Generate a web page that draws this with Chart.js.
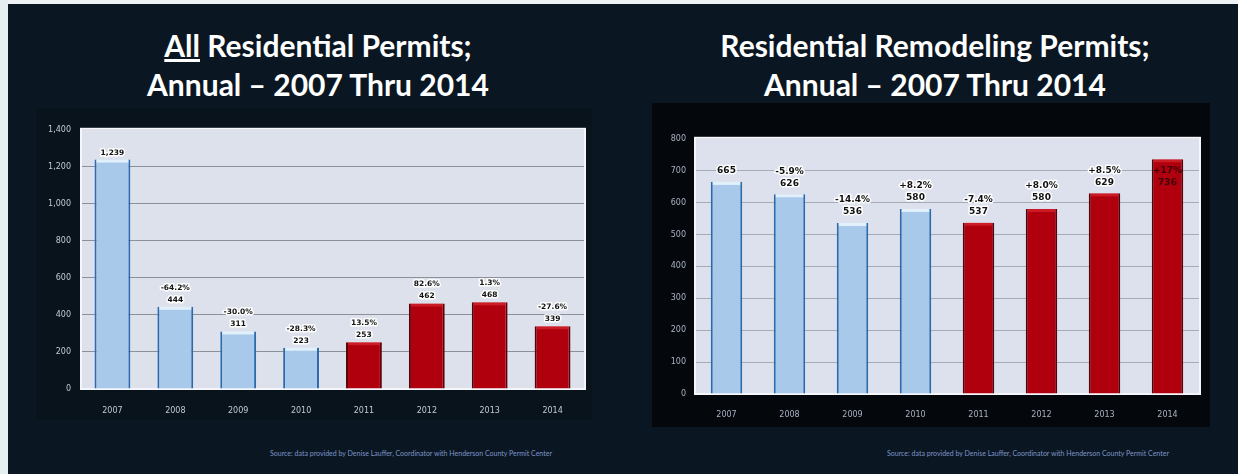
<!DOCTYPE html>
<html>
<head>
<meta charset="utf-8">
<script src="https://cdn.jsdelivr.net/npm/chart.js@4.4.1/dist/chart.umd.min.js"></script>
<style>
body{margin:0;width:1238px;height:474px;background:#0a1722;position:relative;overflow:hidden;font-family:Lato,"Open Sans",sans-serif}
.stripTop{position:absolute;left:0;top:0;width:1238px;height:4px;background:#eef2f4}
.stripLeft{position:absolute;left:0;top:0;width:8px;height:474px;background:#e6eef0}
.panel{position:absolute}
.title{position:absolute;color:#fff;font-size:30px;font-weight:700;text-align:center;line-height:39px;white-space:nowrap}
.src{position:absolute;color:#7f93c8;font-size:7px;white-space:nowrap}
.box{position:absolute}
</style>
</head>
<body>
<div class="stripTop"></div>
<div class="stripLeft"></div>
<div class="panel" style="left:36px;top:108px;width:556px;height:312px;background:#08131c"></div>
<div class="panel" style="left:652px;top:103px;width:558px;height:324px;background:#04080d"></div>

<div class="title" style="left:0;top:26px;width:636px"><u>All</u> Residential Permits;<br>Annual – 2007 Thru 2014</div>
<div class="title" style="left:635px;top:26px;width:600px">Residential Remodeling Permits;<br>Annual – 2007 Thru 2014</div>

<div class="box" style="left:30px;top:115px;width:575px;height:305px"><canvas id="allPermits" width="575" height="305"></canvas></div>
<div class="box" style="left:650px;top:125px;width:570px;height:300px"><canvas id="remodel" width="570" height="300"></canvas></div>

<div class="src" style="left:270px;top:449px">Source: data provided by Denise Lauffer, Coordinator with Henderson County Permit Center</div>
<div class="src" style="left:887px;top:449px">Source: data provided by Denise Lauffer, Coordinator with Henderson County Permit Center</div>

<script>
const years = ['2007','2008','2009','2010','2011','2012','2013','2014'];

const allValues = [1239, 444, 311, 223, 253, 462, 468, 339];
const allChange = ['', '-64.2%', '-30.0%', '-28.3%', '13.5%', '82.6%', '1.3%', '-27.6%'];
const allTicks = [0, 1400, 200];   // min, max, step

const remodelValues = [665, 626, 536, 580, 537, 580, 629, 736];
const remodelChange = ['', '-5.9%', '-14.4%', '+8.2%', '-7.4%', '+8.0%', '+8.5%', '+17%'];
const remodelTicks = [0, 800, 100];

// first four years are blue, later years red
const redFrom = 4;

const plotBg = {
  id: 'plotBg',
  beforeDatasetsDraw(chart, args, o) {
    const a = chart.chartArea, ctx = chart.ctx;
    ctx.save();
    ctx.strokeStyle = o.frame;
    ctx.lineWidth = 2;
    ctx.strokeRect(a.left, a.top - 1, a.right - a.left + 1, a.bottom - a.top + 1);
    ctx.restore();
  },
  beforeDraw(chart, args, o) {
    const a = chart.chartArea, ctx = chart.ctx;
    ctx.save();
    ctx.fillStyle = o.color;
    ctx.fillRect(a.left, a.top, a.right - a.left, a.bottom - a.top);
    ctx.restore();
  }
};

const valueLabels = {
  id: 'valueLabels',
  afterDatasetsDraw(chart, args, o) {
    const ctx = chart.ctx, meta = chart.getDatasetMeta(0);
    const ds = chart.data.datasets[0];
    ctx.save();
    // light cap on top of each bar
    meta.data.forEach((bar, i) => {
      const w = bar.width;
      ctx.fillStyle = i >= redFrom ? 'rgba(255,80,80,0.35)' : 'rgba(240,250,255,0.8)';
      ctx.fillRect(bar.x - w / 2 + 2, bar.y, w - 4, 3);
    });
    ctx.font = 'bold ' + o.size + 'px "DejaVu Sans"';
    ctx.textAlign = 'center';
    ctx.textBaseline = 'middle';
    ctx.lineJoin = 'round';
    meta.data.forEach((bar, i) => {
      const lines = [];
      if (o.change[i]) lines.push(o.change[i]);
      lines.push(ds.data[i].toLocaleString('en-US'));
      let y = bar.y - o.gap - o.lineH * (lines.length - 1);
      let inside = false;
      if (y - o.size < chart.chartArea.top) {
        inside = true;
        y = bar.y + o.gap;
      }
      lines.forEach((t, k) => {
        const yy = y + k * o.lineH;
        if (!inside) {
          ctx.strokeStyle = 'rgba(255,255,255,0.95)';
          ctx.lineWidth = 3;
          ctx.strokeText(t, bar.x, yy);
          ctx.fillStyle = '#111';
        } else {
          ctx.fillStyle = '#3a0006';
        }
        ctx.fillText(t, bar.x, yy);
      });
    });
    ctx.restore();
  }
};

function makeChart(id, values, change, ticks, cfg) {
  return new Chart(document.getElementById(id), {
    type: 'bar',
    data: {
      labels: years,
      datasets: [{
        data: values,
        backgroundColor: values.map((v, i) => i >= redFrom ? '#b0000e' : '#a9c9ea'),
        borderColor: values.map((v, i) => i >= redFrom ? '#5c0008' : '#2a6aad'),
        borderWidth: {left: 2, right: 2, top: 0, bottom: 0},
        borderSkipped: false,
        barPercentage: cfg.barPct,
        categoryPercentage: 1
      }]
    },
    options: {
      responsive: false,
      animation: false,
      layout: {padding: {left: 0, right: 21, top: cfg.padTop, bottom: 0}},
      plugins: {
        legend: {display: false},
        tooltip: {enabled: false},
        plotBg: {color: cfg.plot, frame: '#f4f6fb'},
        valueLabels: {change: change, size: cfg.labelSize, gap: cfg.gap, lineH: cfg.lineH}
      },
      scales: {
        x: {
          grid: {display: false},
          border: {display: false},
          ticks: {color: cfg.tickColor, font: {family: 'DejaVu Sans', size: 8}, padding: cfg.xPad},
          afterFit(s) { s.height = 31; }
        },
        y: {
          min: ticks[0], max: ticks[1],
          ticks: {stepSize: ticks[2], color: cfg.tickColor, font: {family: 'DejaVu Sans', size: 8}, padding: cfg.yPad},
          grid: {color: cfg.gridColor, lineWidth: 1, drawTicks: false},
          border: {display: true, color: '#9aa0aa'},
          afterFit(s) { s.width = cfg.yWidth; }
        }
      }
    },
    plugins: [plotBg, valueLabels]
  });
}

makeChart('allPermits', allValues, allChange, allTicks, {
  barPct: 0.57, padTop: 8, yWidth: 51, yPad: 10, xPad: 9,
  plot: '#dde1ec', gridColor: '#8c9098', tickColor: '#c4c9d2',
  labelSize: 7.5, gap: 7, lineH: 12
});

makeChart('remodel', remodelValues, remodelChange, remodelTicks, {
  barPct: 0.5, padTop: 12, yWidth: 45, yPad: 9, xPad: 8,
  plot: '#dde1ee', gridColor: '#a6abb5', tickColor: '#a9b0c0',
  labelSize: 9, gap: 11, lineH: 12
});
</script>
</body>
</html>
